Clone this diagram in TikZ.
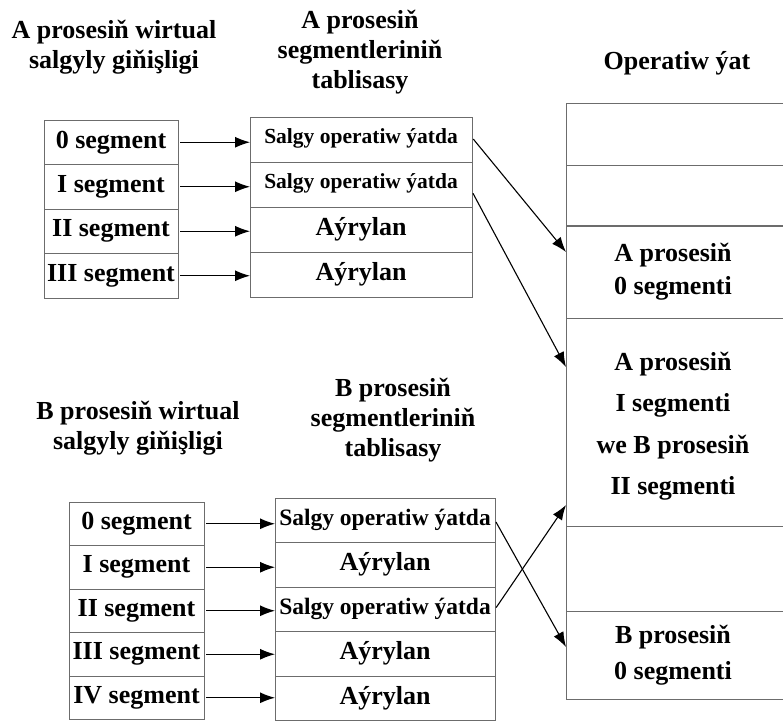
\documentclass[tikz,border=0pt]{standalone}
\usepackage{fontspec}
\setmainfont{Liberation Serif}
\usetikzlibrary{positioning,arrows.meta}

\tikzset{
  cell/.style={draw=gray!85!black, line width=0.8pt, inner sep=0pt, outer sep=0pt,
    minimum height=44.5pt, font=\fontsize{26}{29}\selectfont\bfseries},
  segbox/.style={cell, minimum width=134pt},
  tabbox/.style={cell, minimum width=222pt},
  memcell/.style={inner sep=0pt, outer sep=0pt, minimum width=214pt, align=center,
    font=\fontsize{26}{41.5}\selectfont\bfseries},
  title/.style={align=center, font=\fontsize{26}{30}\selectfont\bfseries},
  link/.style={-{Latex[length=15pt,width=11pt]}, line width=1.1pt, shorten <=2pt},
  memline/.style={draw=gray!85!black, line width=0.8pt}
}

\begin{document}
\begin{tikzpicture}[x=1pt,y=-1pt]
\useasboundingbox (0,0) rectangle (783,721);
% titles
\node[title] (ta) at (114,47) {A prosesiň wirtual\\salgyly giňişligi};
\node[title] (tta) at (360,52) {A prosesiň\\segmentleriniň\\tablisasy};
\node[title] (tm) at (677,63) {Operatiw ýat};
\node[title] (tb) at (138,428) {B prosesiň wirtual\\salgyly giňişligi};
\node[title] (ttb) at (393,420) {B prosesiň\\segmentleriniň\\tablisasy};

% process A
\node[segbox] (a0) at (111,142.25) {0 segment};
\node[segbox, below=0pt of a0] (a1) {I segment};
\node[segbox, below=0pt of a1] (a2) {II segment};
\node[segbox, below=0pt of a2] (a3) {III segment};

\node[tabbox, minimum height=45pt] (sa0) at (361,139.5) {\raisebox{7pt}{\fontsize{21.5}{24}\selectfont Salgy operatiw ýatda}};
\node[tabbox, minimum height=45pt, below=0pt of sa0] (sa1) {\raisebox{7pt}{\fontsize{21.5}{24}\selectfont Salgy operatiw ýatda}};
\node[tabbox, minimum height=45pt, below=0pt of sa1] (sa2) {\raisebox{4pt}{Aýrylan}};
\node[tabbox, minimum height=45pt, below=0pt of sa2] (sa3) {\raisebox{4pt}{Aýrylan}};

\draw[link] (a0.east) -- (a0.east -| sa0.west);
\draw[link] (a1.east) -- (a1.east -| sa1.west);
\draw[link] (a2.east) -- (a2.east -| sa2.west);
\draw[link] (a3.east) -- (a3.east -| sa3.west);

% process B
\node[segbox, minimum width=135pt, minimum height=43.5pt] (b0) at (136.5,523.75) {0 segment};
\node[segbox, minimum width=135pt, minimum height=43.5pt, below=0pt of b0] (b1) {I segment};
\node[segbox, minimum width=135pt, minimum height=43.5pt, below=0pt of b1] (b2) {II segment};
\node[segbox, minimum width=135pt, minimum height=43.5pt, below=0pt of b2] (b3) {III segment};
\node[segbox, minimum width=135pt, minimum height=43.5pt, below=0pt of b3] (b4) {IV segment};

\node[tabbox, minimum width=220pt] (sb0) at (385,520.25) {\fontsize{23.5}{26}\selectfont Salgy operatiw ýatda};
\node[tabbox, minimum width=220pt, below=0pt of sb0] (sb1) {\raisebox{4pt}{Aýrylan}};
\node[tabbox, minimum width=220pt, below=0pt of sb1] (sb2) {\fontsize{23.5}{26}\selectfont Salgy operatiw ýatda};
\node[tabbox, minimum width=220pt, below=0pt of sb2] (sb3) {\raisebox{4pt}{Aýrylan}};
\node[tabbox, minimum width=220pt, below=0pt of sb3] (sb4) {\raisebox{4pt}{Aýrylan}};

\draw[link] (b0.east) -- (b0.east -| sb0.west);
\draw[link] (b1.east) -- (b1.east -| sb1.west);
\draw[link] (b2.east) -- (b2.east -| sb2.west);
\draw[link] (b3.east) -- (b3.east -| sb3.west);
\draw[link] (b4.east) -- (b4.east -| sb4.west);

% memory
\node[memcell, minimum height=62pt] (m1) at (673,134) {};
\node[memcell, minimum height=61pt, below=0pt of m1] (m2) {};
\node[memcell, minimum height=92pt, below=0pt of m2, font=\fontsize{26}{33}\selectfont\bfseries] (m3) {A prosesiň\\0 segmenti};
\node[memcell, minimum height=208pt, below=0pt of m3, yshift=-4pt] (m4) {A prosesiň\\I segmenti\\we B prosesiň\\II segmenti};
\node[memcell, minimum height=85pt, below=0pt of m4, yshift=4pt] (m5) {};
\node[memcell, minimum height=88pt, below=0pt of m5, font=\fontsize{26}{36}\selectfont\bfseries] (m6) {B prosesiň\\0 segmenti};

\draw[memline] (m1.north west) -- (m6.south west);
\draw[memline] (m1.north west) -- ++(230,0);
\draw[memline] (m2.north west) -- ++(230,0);
\draw[memline, line width=1.2pt] (m3.north west) -- ++(230,0);
\draw[memline] (m3.south west) -- ++(230,0);
\draw[memline] (m5.north west) -- ++(230,0);
\draw[memline] (m6.north west) -- ++(230,0);
\draw[memline] (m6.south west) -- ++(230,0);

% segment placement
\draw[link] ([yshift=2pt]sa0.east) -- ([yshift=20pt]m3.west);
\draw[link] ([yshift=-7pt]sa1.east) -- ([yshift=59pt]m4.west);
\draw[link] (sb0.east) -- ([yshift=8pt]m6.west);
\draw[link] (sb2.east) -- ([yshift=-79pt]m4.west);
\end{tikzpicture}
\end{document}
